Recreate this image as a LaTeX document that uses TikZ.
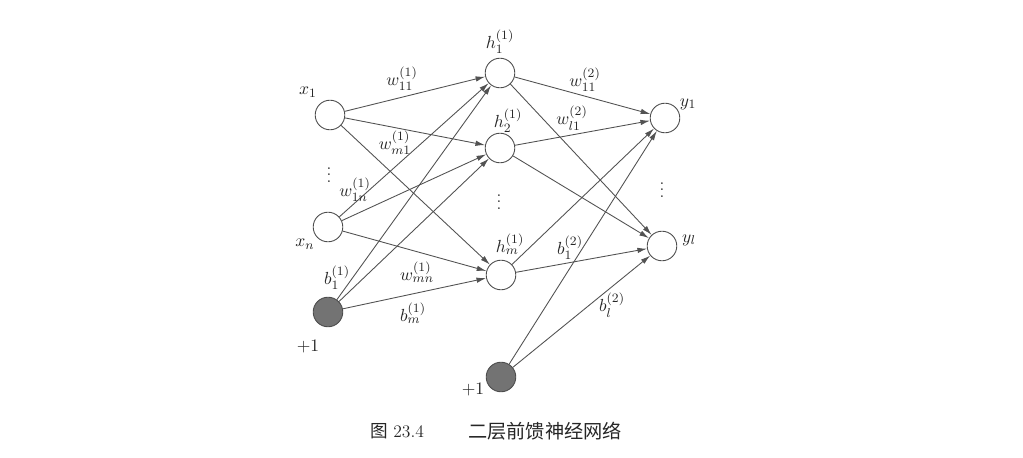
\documentclass[tikz,border=0pt]{standalone}
\usepackage{fontspec}
\usepackage{amsmath}
\newfontfamily\cjk{Noto Sans CJK SC}
\usetikzlibrary{arrows.meta}

\tikzset{
  neuron/.style={circle,draw=black!70,line width=0.55pt,fill=white,minimum size=18.5pt,inner sep=0pt},
  biasunit/.style={neuron,fill=black!55},
  conn/.style={draw=black!68,line width=0.55pt,-{Latex[length=6pt,width=3.4pt]}},
  lbl/.style={inner sep=0pt,text=black!85,font=\fontsize{11pt}{13pt}\selectfont},
}

\begin{document}
\begin{tikzpicture}[x=0.625pt,y=-0.625pt]
    \useasboundingbox (0,0) rectangle (1023,458);
    % units
    \foreach \name/\px/\py in {x1/330/115, xn/328/227, h1/500/73, h2/500/148, hm/501/275, y1/665/118, yl/662/246} {
        \node[neuron] (\name) at (\px,\py) {};
    }
    \node[biasunit] (b1) at (328,312) {};
    \node[biasunit] (b2) at (501,377) {};
    % connections
    \foreach \src in {x1,xn,b1} {
        \foreach \dst in {h1,h2,hm} {
            \draw[conn] (\src) -- (\dst);
        }
    }
    \foreach \src in {h1,h2,hm,b2} {
        \foreach \dst in {y1,yl} {
            \draw[conn] (\src) -- (\dst);
        }
    }
    % labels
    \foreach \name/\px/\py/\txt in {lx1/308/92/{$x_1$}, lxn/305/244/{$x_n$}, lone1/308/347/{$+1$},
        lb11/337/278/{$b_1^{(1)}$}, lw11/402/79/{$w_{11}^{(1)}$}, lwm1/395/143/{$w_{m1}^{(1)}$},
        lw1n/355/190/{$w_{1n}^{(1)}$}, lwmn/417/272/{$w_{mn}^{(1)}$}, lbm/413/313/{$b_m^{(1)}$},
        lh1/500/42/{$h_1^{(1)}$}, lh2/508/121/{$h_2^{(1)}$}, lhm/510/244/{$h_m^{(1)}$},
        lw211/585/80/{$w_{11}^{(2)}$}, lwl1/572/118/{$w_{l1}^{(2)}$}, ly1/688/104/{$y_1$},
        lyl/689/240/{$y_l$}, lb21/570/248/{$b_1^{(2)}$}, lbl2/612/305/{$b_l^{(2)}$}, lone2/473/390/{$+1$}} {
        \node[lbl] (\name) at (\px,\py) {\txt};
    }
    % dots
    \foreach \name/\px/\py in {dx/329/170, dh/499/197, dy/662/185} {
        \node[lbl] (\name) at (\px,\py) {$\vdots$};
    }
    % caption
    \node[lbl] (capnum) at (397,431) {{\cjk 图}\ 23.4};
    \node[lbl] (captext) at (545,431) {\fontsize{12pt}{14pt}\selectfont\cjk 二层前馈神经网络};
\end{tikzpicture}
\end{document}
